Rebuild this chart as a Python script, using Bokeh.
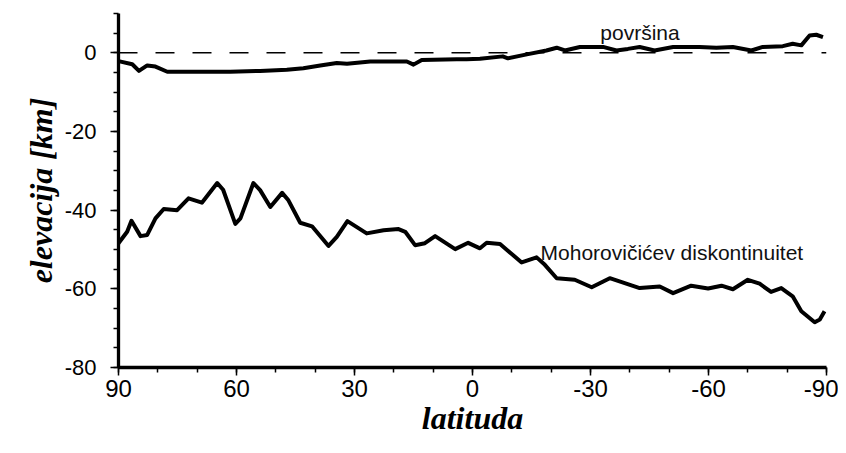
from bokeh.plotting import figure
from bokeh.models import Range1d, SingleIntervalTicker, Span, Label, CustomJSTickFormatter
from bokeh.embed import file_html
from bokeh.resources import INLINE

# Surface (površina) elevation, km, vs latitude
surf_lat = [90, 86.5, 84.8, 82.7, 80.6, 77.6, 70, 61.6, 54.0, 47.2, 43.0, 38.7, 34.5, 31.9, 26.0,
            16.7, 15.0, 12.9, 4.0, 1.5, -1.9, -7.7, -9.0, -13.8, -18.8, -21.4, -23.5, -27.3,
            -33.2, -36.6, -39.5, -42.5, -46.3, -51.0, -57.7, -62.0, -66.2, -70.9, -73.8,
            -78.9, -81.4, -83.6, -85.7, -87.4, -89.1]
surf_km = [-2.1, -2.9, -4.6, -3.2, -3.5, -4.8, -4.8, -4.8, -4.6, -4.3, -3.9, -3.2, -2.6, -2.8, -2.2,
           -2.2, -3.0, -1.8, -1.6, -1.6, -1.5, -0.9, -1.4, -0.4, 0.6, 1.3, 0.6, 1.5,
           1.5, 0.6, 1.0, 1.5, 0.6, 1.5, 1.5, 1.3, 1.5, 0.6, 1.5,
           1.7, 2.3, 1.9, 4.4, 4.6, 4.0]

# Mohorovičić discontinuity depth, km, vs latitude
moho_lat = [90, 87.8, 86.7, 84.4, 82.7, 80.6, 78.5, 75.1, 72.2, 68.8, 64.9, 63.4, 60.3, 59.0,
            55.7, 54.0, 51.4, 48.4, 46.8, 43.8, 40.8, 36.6, 34.5, 31.8, 26.9, 22.6, 18.8,
            17.1, 14.6, 12.1, 9.5, 4.4, 1.1, -1.9, -3.6, -7.0, -12.5, -16.3, -18.4, -21.4,
            -26.0, -30.3, -34.9, -42.5, -47.6, -51.0, -55.6, -59.9, -63.3, -66.2, -70.0,
            -73.0, -75.9, -78.5, -81.4, -83.6, -87.0, -88.3, -89.5]
moho_km = [-48.4, -45.5, -42.7, -46.6, -46.3, -42.1, -39.7, -40.0, -37.0, -38.1, -33.1, -34.8,
           -43.5, -42.1, -33.1, -34.9, -39.2, -35.6, -37.5, -43.2, -44.1, -49.1, -46.8, -42.8,
           -45.9, -45.1, -44.8, -45.5, -48.9, -48.4, -46.6, -49.9, -48.3, -49.7, -48.3, -48.6,
           -53.3, -52.0, -53.9, -57.3, -57.7, -59.6, -57.3, -59.8, -59.4, -61.1, -59.2, -59.9,
           -59.2, -60.1, -57.7, -58.7, -60.8, -59.8, -61.9, -65.7, -68.5, -67.8, -65.7]

p = figure(width=838, height=445, output_backend="svg", toolbar_location=None,
           x_range=Range1d(90, -90), y_range=Range1d(-80, 10),
           min_border_left=118, min_border_right=12, min_border_top=13, min_border_bottom=78)
p.outline_line_color = None
p.grid.visible = False
p.background_fill_color = "white"

p.add_layout(Span(location=0, dimension="width", line_color="black", line_width=1.5,
                  line_dash="19 18"))

p.line(surf_lat, surf_km, line_color="black", line_width=4, line_join="round")
p.line(moho_lat, moho_km, line_color="black", line_width=4, line_join="round")

p.add_layout(Label(x=-32.5, y=5.2, text="površina", text_font="Liberation Sans",
                   text_font_size="21px", text_color="#111111", text_baseline="alphabetic"))
p.add_layout(Label(x=-17.3, y=-50.85, text="Mohorovičićev diskontinuitet",
                   text_font="Liberation Sans", text_font_size="21px", text_color="#111111",
                   text_baseline="alphabetic"))

p.xaxis.ticker = SingleIntervalTicker(interval=30, num_minor_ticks=3)
p.yaxis.ticker = SingleIntervalTicker(interval=20, num_minor_ticks=4)
fmt = CustomJSTickFormatter(code="return tick.toString();")
p.xaxis.formatter = fmt
p.yaxis.formatter = fmt

for ax in (p.xaxis[0], p.yaxis[0]):
    ax.axis_line_width = 3.3
    ax.axis_line_color = "black"
    ax.major_tick_line_width = 1.5
    ax.minor_tick_line_width = 1.5
    ax.major_tick_out = 8
    ax.major_tick_in = 0
    ax.minor_tick_out = 5
    ax.minor_tick_in = 0
    ax.major_label_text_font = "Liberation Sans"
    ax.major_label_text_color = "black"
    ax.axis_label_text_font = "Liberation Serif"
    ax.axis_label_text_font_style = "bold italic"
    ax.axis_label_text_font_size = "32px"
    ax.axis_label_text_color = "black"

p.xaxis.major_label_text_font_size = "24px"
p.yaxis.major_label_text_font_size = "22px"
p.xaxis.axis_label = "latituda"
p.yaxis.axis_label = "elevacija [km]"
p.xaxis.major_label_standoff = 4
p.yaxis.major_label_standoff = 14
p.xaxis.axis_label_standoff = 0
p.yaxis.axis_label_standoff = 3

open("out.html", "w").write(file_html(p, INLINE))
